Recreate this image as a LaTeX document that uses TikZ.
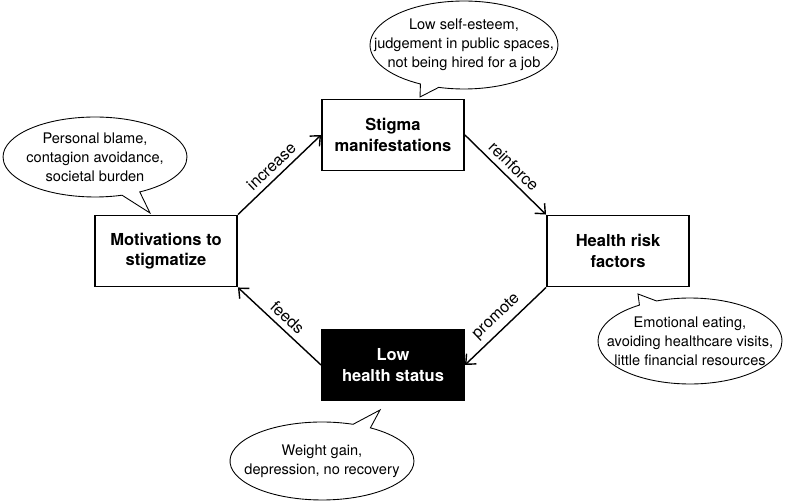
\documentclass[tikz,border=0pt]{standalone}
\usepackage{fontspec}
\setmainfont{TeX Gyre Heros}
\usetikzlibrary{shapes.callouts,arrows.meta}

\tikzset{
  box/.style={draw,line width=1.1pt,minimum width=2.84cm,minimum height=1.42cm,
    align=center,inner sep=0pt,font=\fontsize{9.4}{11.5}\selectfont\bfseries},
  lowbox/.style={box,fill=black,text=white},
  bubble/.style={draw,ellipse callout,line width=0.5pt,inner sep=0pt,callout pointer arc=12},
  bubbletext/.style={align=center,inner sep=0pt,font=\fontsize{8.3}{10.9}\selectfont},
  link/.style={line width=0.8pt,-{Straight Barb[length=4.5pt,width=8pt]}},
  linklabel/.style={sloped,above,inner sep=3pt,font=\fontsize{9.2}{11}\selectfont}
}

\begin{document}
\begin{tikzpicture}[x=0.02cm,y=-0.02cm]
\useasboundingbox (0,0) rectangle (785,503);
% the four stages
\node[box] (mot) at (166,251) {Motivations to\\stigmatize};
\node[box] (stig) at (393,135) {Stigma\\manifestations};
\node[box] (risk) at (618,251) {Health risk\\factors};
\node[lowbox] (low) at (393,365) {Low\\health status};
% cycle
\draw[link] (mot.north east) -- (stig.west) node[linklabel,midway] (lincr) {increase};
\draw[link] (stig.east) -- (risk.north west) node[linklabel,midway] (lreinf) {reinforce};
\draw[link] (risk.south west) -- (low.east) node[linklabel,midway] (lprom) {promote};
\draw[link] (low.west) -- (mot.south east) node[linklabel,midway] (lfeeds) {feeds};
% speech bubbles
\node[bubble,minimum width=3.68cm,minimum height=1.6cm,callout absolute pointer={(150,213)}] (cmot) at (95,157) {};
\node[bubbletext] (tmot) at (cmot.center) {Personal blame,\\contagion avoidance,\\societal burden};
\node[bubble,minimum width=3.76cm,minimum height=1.76cm,callout absolute pointer={(420,97)}] (cstig) at (464,45) {};
\node[bubbletext] (tstig) at (cstig.center) {Low self-esteem,\\judgement in public spaces,\\not being hired for a job};
\node[bubble,minimum width=3.68cm,minimum height=1.72cm,callout absolute pointer={(638,294)}] (crisk) at (690,341) {};
\node[bubbletext] (trisk) at (crisk.center) {Emotional eating,\\avoiding healthcare visits,\\little financial resources};
\node[bubble,minimum width=3.68cm,minimum height=1.56cm,callout absolute pointer={(380,410)}] (clow) at (322,461) {};
\node[bubbletext] (tlow) at (clow.center) {Weight gain,\\depression, no recovery};
\end{tikzpicture}
\end{document}
